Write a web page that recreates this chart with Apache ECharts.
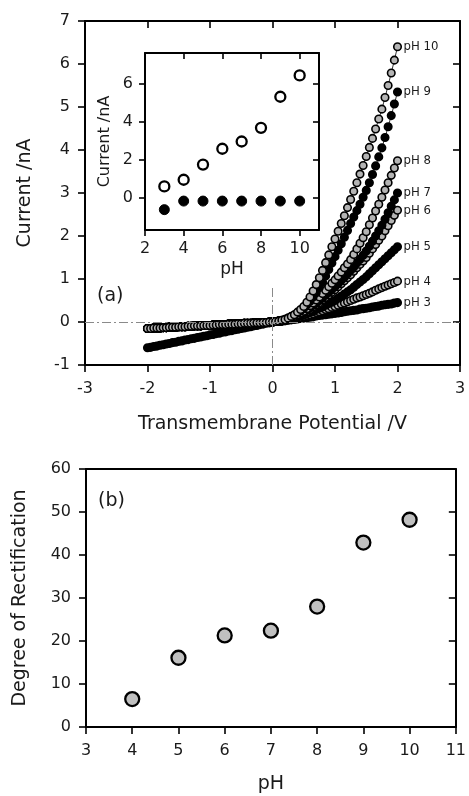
<!DOCTYPE html>
<html>
<head>
<meta charset="utf-8">
<script src="https://cdn.jsdelivr.net/npm/echarts@6/dist/echarts.min.js"></script>
<style>
html, body { margin: 0; padding: 0; background: #fff; }
#chart { width: 469px; height: 796px; }
</style>
</head>
<body>
<div id="chart"></div>
<script>
// ---- data ----
// (a) I-V sweep, transmembrane potential /V
var voltage = [-2.00,-1.95,-1.90,-1.85,-1.80,-1.75,-1.70,-1.65,-1.60,-1.55,
  -1.50,-1.45,-1.40,-1.35,-1.30,-1.25,-1.20,-1.15,-1.10,-1.05,
  -1.00,-0.95,-0.90,-0.85,-0.80,-0.75,-0.70,-0.65,-0.60,-0.55,
  -0.50,-0.45,-0.40,-0.35,-0.30,-0.25,-0.20,-0.15,-0.10,-0.05,
  0.00,0.05,0.10,0.15,0.20,0.25,0.30,0.35,0.40,0.45,
  0.50,0.55,0.60,0.65,0.70,0.75,0.80,0.85,0.90,0.95,
  1.00,1.05,1.10,1.15,1.20,1.25,1.30,1.35,1.40,1.45,
  1.50,1.55,1.60,1.65,1.70,1.75,1.80,1.85,1.90,1.95,2.00];

// negative bias branch (-2.00 .. -0.05 V), current /nA
var negPH3 = [-0.60,-0.59,-0.57,-0.56,-0.54,-0.53,-0.51,-0.50,-0.48,-0.47,
  -0.45,-0.44,-0.42,-0.41,-0.39,-0.38,-0.36,-0.35,-0.33,-0.32,
  -0.30,-0.29,-0.27,-0.26,-0.24,-0.23,-0.21,-0.20,-0.18,-0.17,
  -0.15,-0.14,-0.12,-0.11,-0.09,-0.08,-0.06,-0.05,-0.03,-0.02];
// pH 4 - 10 all lie on top of each other below 0 V
var negOther = [-0.15,-0.15,-0.14,-0.14,-0.14,-0.13,-0.13,-0.12,-0.12,-0.12,
  -0.11,-0.11,-0.11,-0.10,-0.10,-0.09,-0.09,-0.09,-0.08,-0.08,
  -0.08,-0.07,-0.07,-0.06,-0.06,-0.06,-0.05,-0.05,-0.05,-0.04,
  -0.04,-0.03,-0.03,-0.03,-0.02,-0.02,-0.02,-0.01,-0.01,0.00];

// positive bias branch (0.00 .. 2.00 V), current /nA
var posPH3 = [0.00,0.01,0.02,0.02,0.03,0.04,0.05,0.06,0.07,0.08,
  0.09,0.10,0.11,0.12,0.14,0.15,0.16,0.17,0.18,0.19,
  0.20,0.21,0.22,0.24,0.25,0.26,0.27,0.28,0.30,0.31,
  0.32,0.33,0.35,0.36,0.37,0.39,0.40,0.41,0.42,0.44,0.45];
var posPH4 = [0.00,0.01,0.01,0.02,0.03,0.05,0.06,0.08,0.09,0.11,
  0.13,0.15,0.17,0.19,0.22,0.24,0.26,0.29,0.31,0.34,
  0.36,0.39,0.42,0.44,0.47,0.50,0.53,0.56,0.58,0.61,
  0.64,0.67,0.70,0.74,0.77,0.80,0.83,0.86,0.89,0.92,0.95];
var posPH5 = [0.00,0.01,0.02,0.03,0.04,0.06,0.07,0.09,0.12,0.14,
  0.16,0.19,0.22,0.25,0.29,0.32,0.35,0.39,0.43,0.46,
  0.50,0.55,0.60,0.65,0.70,0.75,0.81,0.87,0.93,0.99,
  1.05,1.12,1.19,1.26,1.33,1.40,1.47,1.54,1.61,1.68,1.75];
var posPH6 = [0.00,0.01,0.02,0.03,0.05,0.07,0.09,0.12,0.14,0.17,
  0.20,0.24,0.29,0.35,0.40,0.45,0.51,0.57,0.63,0.69,
  0.75,0.82,0.89,0.96,1.03,1.10,1.18,1.26,1.34,1.42,
  1.50,1.60,1.70,1.80,1.90,2.00,2.12,2.24,2.36,2.48,2.60];
var posPH7 = [0.00,0.01,0.02,0.03,0.05,0.07,0.09,0.12,0.15,0.18,
  0.22,0.27,0.33,0.39,0.44,0.50,0.56,0.63,0.69,0.76,
  0.82,0.89,0.97,1.04,1.12,1.20,1.28,1.37,1.46,1.55,
  1.65,1.76,1.88,2.00,2.12,2.25,2.39,2.54,2.69,2.84,3.00];
var posPH8 = [0.00,0.01,0.02,0.03,0.05,0.08,0.10,0.13,0.17,0.21,
  0.25,0.31,0.38,0.44,0.51,0.58,0.66,0.74,0.82,0.90,
  0.98,1.07,1.16,1.26,1.35,1.45,1.57,1.70,1.83,1.96,
  2.10,2.26,2.42,2.58,2.74,2.90,3.07,3.24,3.41,3.58,3.75];
var posPH9 = [0.00,0.01,0.02,0.04,0.06,0.09,0.12,0.16,0.21,0.26,
  0.32,0.40,0.48,0.58,0.68,0.80,0.93,1.07,1.22,1.37,
  1.52,1.67,1.82,1.97,2.13,2.29,2.44,2.59,2.74,2.90,
  3.06,3.24,3.43,3.63,3.84,4.05,4.29,4.54,4.80,5.07,5.35];
var posPH10 = [0.00,0.01,0.02,0.04,0.06,0.09,0.13,0.17,0.23,0.29,
  0.36,0.46,0.58,0.72,0.87,1.03,1.20,1.38,1.56,1.75,
  1.93,2.11,2.29,2.47,2.66,2.85,3.04,3.24,3.44,3.64,
  3.85,4.06,4.27,4.49,4.72,4.95,5.22,5.50,5.79,6.09,6.40];

// inset: current at +2 V (open) and -2 V (filled) vs pH
var insetPH = [3, 4, 5, 6, 7, 8, 9, 10];
var insetPos = [0.59, 0.94, 1.74, 2.57, 2.95, 3.67, 5.30, 6.42];
var insetNeg = [-0.63, -0.18, -0.18, -0.18, -0.18, -0.18, -0.18, -0.18];

// (b) degree of rectification vs pH
var rectPH = [4, 5, 6, 7, 8, 9, 10];
var rectDegree = [6.5, 16.1, 21.3, 22.4, 28.0, 42.9, 48.2];

// ---- chart ----
var FONT = 'DejaVu Sans';
var TXT = '#1a1a1a';

function zip(xs, ys) {
    var out = [];
    for (var i = 0; i < ys.length; i++) out.push([xs[i], ys[i]]);
    return out;
}

function frameAxis(o) {
    var a = {
        type: 'value',
        gridIndex: o.grid,
        position: o.pos,
        min: o.min,
        max: o.max,
        z: o.z || 0,
        axisLine: { show: true, onZero: false, lineStyle: { color: '#000', width: 2 } },
        axisTick: { show: o.tick !== false, inside: !!o.inside, length: o.tickLen || 7,
                    lineStyle: { color: '#000', width: 1.6 } },
        axisLabel: { show: !!o.labels, margin: o.margin || 14, color: TXT,
                     fontSize: 16, fontFamily: FONT },
        splitLine: { show: false },
        name: o.name || '',
        nameLocation: 'middle',
        nameGap: o.nameGap || 30,
        nameTextStyle: { color: TXT, fontSize: o.nameSize || 19, fontFamily: FONT }
    };
    if (o.interval) a.interval = o.interval;
    if (o.ticks) a.axisTick.customValues = o.ticks;
    if (o.labelsAt) a.axisLabel.customValues = o.labelsAt;
    return a;
}

var ivSeries = [
    { name: 'pH 3', neg: negPH3, pos: posPH3, fill: '#000' },
    { name: 'pH 4', neg: negOther, pos: posPH4, fill: '#b4b4b4' },
    { name: 'pH 5', neg: negOther, pos: posPH5, fill: '#000' },
    { name: 'pH 6', neg: negOther, pos: posPH6, fill: '#b4b4b4' },
    { name: 'pH 7', neg: negOther, pos: posPH7, fill: '#000' },
    { name: 'pH 8', neg: negOther, pos: posPH8, fill: '#b4b4b4' },
    { name: 'pH 9', neg: negOther, pos: posPH9, fill: '#000' },
    { name: 'pH 10', neg: negOther, pos: posPH10, fill: '#b4b4b4' }
];

var series = ivSeries.map(function (s, k) {
    var item = {
        name: s.name,
        type: 'line',
        xAxisIndex: 0,
        yAxisIndex: 0,
        data: zip(voltage, s.neg.concat(s.pos)),
        symbol: 'circle',
        symbolSize: 7.5,
        showAllSymbol: true,
        lineStyle: { color: '#000', width: 0.8 },
        itemStyle: { color: s.fill, borderColor: '#000', borderWidth: 1.6, opacity: 1 },
        endLabel: {
            show: true,
            formatter: s.name,
            distance: 6,
            color: TXT,
            fontSize: 13,
            fontFamily: '"Liberation Sans Narrow", "DejaVu Sans Condensed", "Liberation Sans", sans-serif'
        },
        silent: true
    };
    if (k === 0) {
        item.markLine = {
            silent: true,
            symbol: 'none',
            label: { show: false },
            lineStyle: { color: '#8a8a8a', width: 1, type: [9, 3, 2, 3] },
            data: [
                [{ coord: [-3, 0] }, { coord: [3, 0] }],
                [{ coord: [0, -1] }, { coord: [0, 0.8] }]
            ]
        };
    }
    return item;
});

series.push({
    type: 'scatter', xAxisIndex: 2, yAxisIndex: 2, z: 20,
    data: zip(insetPH, insetPos),
    symbol: 'circle', symbolSize: 10,
    itemStyle: { color: '#fff', borderColor: '#000', borderWidth: 2.3, opacity: 1 }
});
series.push({
    type: 'scatter', xAxisIndex: 2, yAxisIndex: 2, z: 20,
    data: zip(insetPH, insetNeg),
    symbol: 'circle', symbolSize: 10,
    itemStyle: { color: '#000', borderColor: '#000', borderWidth: 1, opacity: 1 }
});
series.push({
    type: 'scatter', xAxisIndex: 4, yAxisIndex: 4,
    data: zip(rectPH, rectDegree),
    symbol: 'circle', symbolSize: 14,
    itemStyle: { color: '#c0c0c0', borderColor: '#000', borderWidth: 2.3, opacity: 1 }
});

var option = {
    animation: false,
    backgroundColor: '#fff',
    grid: [
        { left: 85, top: 21, width: 375, height: 344 },
        { left: 145, top: 53, width: 174, height: 177, show: true,
          backgroundColor: '#fff', borderWidth: 0, z: 5 },
        { left: 86, top: 469, width: 374, height: 258 }
    ],
    xAxis: [
        frameAxis({ grid: 0, pos: 'bottom', min: -3, max: 3, interval: 1, labels: true, margin: 16,
                    name: 'Transmembrane Potential /V', nameGap: 50 }),
        frameAxis({ grid: 0, pos: 'top', min: -3, max: 3, interval: 1, inside: true }),
        frameAxis({ grid: 1, pos: 'bottom', min: 2, max: 11, labels: true, margin: 11, tickLen: 6,
                    ticks: [2, 4, 6, 8, 10], labelsAt: [2, 4, 6, 8, 10], z: 20,
                    name: 'pH', nameGap: 31, nameSize: 17 }),
        frameAxis({ grid: 1, pos: 'top', min: 2, max: 11, inside: true, tickLen: 6, z: 20,
                    ticks: [4, 6, 8, 10] }),
        frameAxis({ grid: 2, pos: 'bottom', min: 3, max: 11, interval: 1, labels: true, margin: 16,
                    name: 'pH', nameGap: 48 }),
        frameAxis({ grid: 2, pos: 'top', min: 3, max: 11, interval: 1, tick: false })
    ],
    yAxis: [
        frameAxis({ grid: 0, pos: 'left', min: -1, max: 7, interval: 1, labels: true, margin: 15,
                    name: 'Current /nA', nameGap: 50 }),
        frameAxis({ grid: 0, pos: 'right', min: -1, max: 7, interval: 1, inside: true }),
        frameAxis({ grid: 1, pos: 'left', min: -1.7, max: 7.6, labels: true, margin: 12, tickLen: 6,
                    ticks: [0, 2, 4, 6], labelsAt: [0, 2, 4, 6], z: 20,
                    name: 'Current /nA', nameGap: 32, nameSize: 16 }),
        frameAxis({ grid: 1, pos: 'right', min: -1.7, max: 7.6, inside: true, tickLen: 6, z: 20,
                    ticks: [0, 2, 4, 6] }),
        frameAxis({ grid: 2, pos: 'left', min: 0, max: 60, interval: 10, labels: true, margin: 15,
                    name: 'Degree of Rectification', nameGap: 56 }),
        frameAxis({ grid: 2, pos: 'right', min: 0, max: 60, interval: 10, inside: true })
    ],
    graphic: [
        { type: 'text', left: 97, top: 287,
          style: { text: '(a)', fill: TXT, fontSize: 19, fontFamily: FONT } },
        { type: 'text', left: 98, top: 492,
          style: { text: '(b)', fill: TXT, fontSize: 19, fontFamily: FONT } }
    ],
    series: series
};

var myChart = echarts.init(document.getElementById('chart'));
myChart.setOption(option);
</script>
</body>
</html>
